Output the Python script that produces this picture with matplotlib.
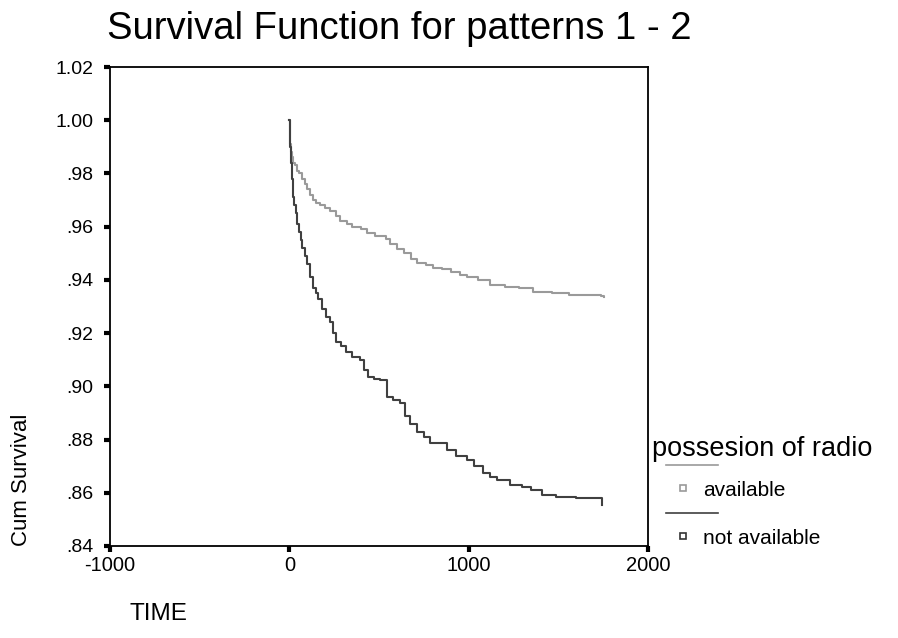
import matplotlib
matplotlib.use("Agg")
import matplotlib.pyplot as plt
from matplotlib.lines import Line2D

plt.rcParams['font.family'] = ['Liberation Sans', 'DejaVu Sans']

# Data
time_avail = [0, 3, 6, 10, 15, 22, 30, 42, 55, 72, 88, 100, 118, 133, 150, 170, 200, 228, 260, 283,
              320, 350, 400, 433, 480, 540, 561, 600, 640, 680, 711, 760, 800, 850, 900, 950, 989,
              1050, 1117, 1200, 1280, 1356, 1467, 1560, 1689, 1740, 1755]
surv_avail = [1.000, 0.995, 0.991, 0.988, 0.986, 0.984, 0.983, 0.981, 0.980, 0.978, 0.976, 0.974, 0.972,
              0.970, 0.969, 0.968, 0.967, 0.966, 0.964, 0.962, 0.961, 0.960, 0.959, 0.9576, 0.9565,
              0.9555, 0.9535, 0.9515, 0.950, 0.948, 0.9465, 0.9455, 0.9445, 0.944, 0.943, 0.942, 0.941,
              0.940, 0.938, 0.9375, 0.937, 0.9355, 0.935, 0.9345, 0.9343, 0.934, 0.9335]

time_notavail = [0, 2, 5, 8, 10, 13, 15, 18, 22, 28, 35, 45, 55, 65, 72, 85, 100, 115, 133, 147, 161,
                 183, 205, 228, 245, 261, 290, 317, 350, 394, 415, 439, 470, 506, 544, 580, 617, 645,
                 672, 711, 750, 783, 878, 930, 989, 1030, 1078, 1120, 1156, 1230, 1300, 1350, 1411,
                 1489, 1600, 1689, 1745]
surv_notavail = [1.000, 0.995, 0.990, 0.987, 0.984, 0.981, 0.978, 0.975, 0.971, 0.968, 0.965, 0.961,
                 0.958, 0.955, 0.952, 0.949, 0.946, 0.941, 0.937, 0.935, 0.933, 0.929, 0.926, 0.924,
                 0.920, 0.9166, 0.915, 0.913, 0.911, 0.910, 0.906, 0.9034, 0.9028, 0.9023, 0.896,
                 0.895, 0.8937, 0.889, 0.886, 0.8828, 0.881, 0.8787, 0.876, 0.874, 0.8722, 0.870,
                 0.8674, 0.866, 0.8647, 0.863, 0.862, 0.861, 0.859, 0.8583, 0.858, 0.858, 0.8555]

x_ticks = [-1000, 0, 1000, 2000]
y_ticks = [0.84, 0.86, 0.88, 0.90, 0.92, 0.94, 0.96, 0.98, 1.00, 1.02]
y_tick_labels = [".84", ".86", ".88", ".90", ".92", ".94", ".96", ".98", "1.00", "1.02"]
series_names = ["available", "not available"]
colors = ["#9a9a9a", "#404040"]

W, H = 898, 638
fig = plt.figure(figsize=(W / 100, H / 100), dpi=100)
ax = fig.add_axes([110 / W, 1 - 546 / H, (648 - 110) / W, (546 - 67) / H])

ax.plot(time_avail, surv_avail, drawstyle='steps-post', color=colors[0], lw=1.5)
ax.plot(time_notavail, surv_notavail, drawstyle='steps-post', color=colors[1], lw=1.5)

ax.set_xlim(-1000, 2000)
ax.set_ylim(0.84, 1.02)
ax.set_xticks(x_ticks)
ax.set_xticklabels([str(v) for v in x_ticks])
ax.set_yticks(y_ticks)
ax.set_yticklabels(y_tick_labels)
ax.tick_params(direction='out', length=4, width=3, color='black')
ax.tick_params(axis='x', labelsize=14.5, pad=3)
ax.tick_params(axis='y', labelsize=14, pad=8)
for s in ax.spines.values():
    s.set_linewidth(1.3)

fig.text(107 / W, 1 - 29 / H, "Survival Function for patterns 1 - 2", fontsize=27.5,
         ha='left', va='center')
fig.text(22 / W, 1 - 480 / H, "Cum Survival", fontsize=16, rotation=90, ha='center', va='center')
fig.text(130 / W, 1 - 614 / H, "TIME", fontsize=17.5, ha='left', va='center')

# Legend (manual, SPSS style)
fig.text(652 / W, 1 - 449 / H, "possesion of radio", fontsize=19.5, ha='left', va='center')
for i, (name, c) in enumerate(zip(series_names, colors)):
    yl = 465 + i * 48
    fig.add_artist(Line2D([666 / W, 718 / W], [1 - yl / H, 1 - yl / H], color=c, lw=1.2,
                          transform=fig.transFigure))
    ym = yl + 23
    fig.add_artist(Line2D([683 / W], [1 - ym / H], marker='s', markersize=5, markerfacecolor='white',
                          markeredgecolor=c if i == 0 else '#333333', markeredgewidth=1.2,
                          linestyle='none', transform=fig.transFigure))
    fig.text(703 / W, 1 - (ym + 2) / H, name, fontsize=15, ha='left', va='center')

fig.savefig("out.png", dpi=100)
